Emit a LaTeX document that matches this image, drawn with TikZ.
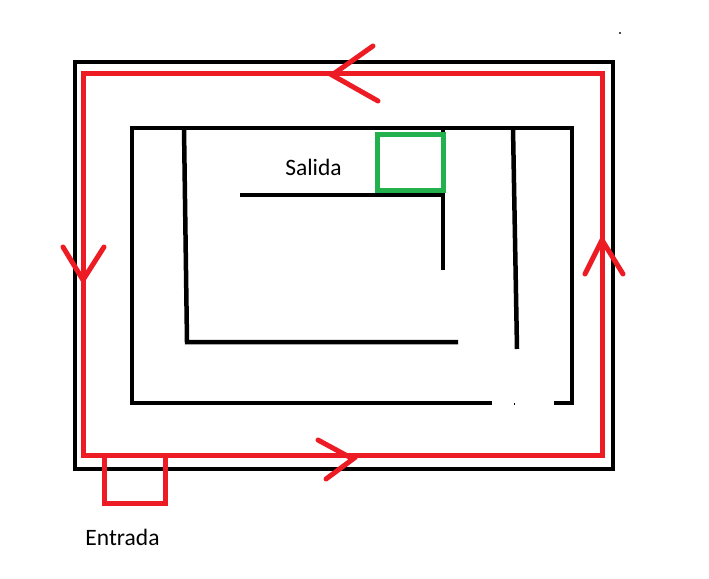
\documentclass[tikz,border=0pt]{standalone}
\usepackage{fontspec}
\setmainfont{Carlito}
\definecolor{pred}{HTML}{ED1C24}
\definecolor{pgreen}{HTML}{22B14C}
\begin{document}
\begin{tikzpicture}[x=1pt,y=-1pt,
  wall/.style={draw=black,line width=4.5pt},
  route/.style={draw=pred,line width=5pt},
  chev/.style={draw=pred,line width=5pt,line cap=round,line join=miter},
  goal/.style={draw=pgreen,line width=5pt},
  lbl/.style={font=\fontsize{23.5}{26}\selectfont,text=black,inner sep=0pt}]
\useasboundingbox (0,0) rectangle (709,578);
% named coordinates
\coordinate (o1) at (75,62);  \coordinate (o2) at (613,469);
\coordinate (r1) at (83,73);  \coordinate (r2) at (602,455);
\coordinate (ia) at (492,403); \coordinate (ib) at (132,403);
\coordinate (ic) at (132,128); \coordinate (id) at (572,128);
\coordinate (ie) at (572,403); \coordinate (if) at (554,403);
\coordinate (la) at (184,128); \coordinate (lb) at (187,342); \coordinate (lc) at (458,342);
\coordinate (sa) at (240,195); \coordinate (sb) at (445,195);
\coordinate (va) at (443,128); \coordinate (vb) at (443,270);
\coordinate (ra) at (513,128); \coordinate (rb) at (517,349);
% outer wall
\draw[wall] (o1) rectangle (o2);
% route loop
\draw[route] (r1) rectangle (r2);
% inner walls
\draw[wall] (ia) -- (ib) -- (ic) -- (id) -- (ie) -- (if);
\draw[wall] (la) -- (lb) -- (lc);
\draw[wall] (sa) -- (sb);
\draw[wall] (va) -- (vb);
\draw[wall] (ra) -- (rb);
% goal and start boxes
\draw[goal] (377,134) rectangle (443,190);
\draw[route] (104,455) rectangle (165,503);
% direction chevrons
\draw[chev] (373,46) -- (332,75) -- (378,101);
\draw[chev] (63,247) -- (83,280) -- (104,247);
\draw[chev] (318,440) -- (353,459) -- (326,479);
\draw[chev] (585,274) -- (602,240) -- (623,274);
% specks
\fill[black!70] (618.5,32.5) rectangle (620.5,34.5);
\fill[black] (513.5,403) rectangle (515,405);
% labels
\node[lbl] (salida) at (313.5,167) {Salida};
\node[lbl] (entrada) at (122.5,537) {Entrada};
\end{tikzpicture}
\end{document}
